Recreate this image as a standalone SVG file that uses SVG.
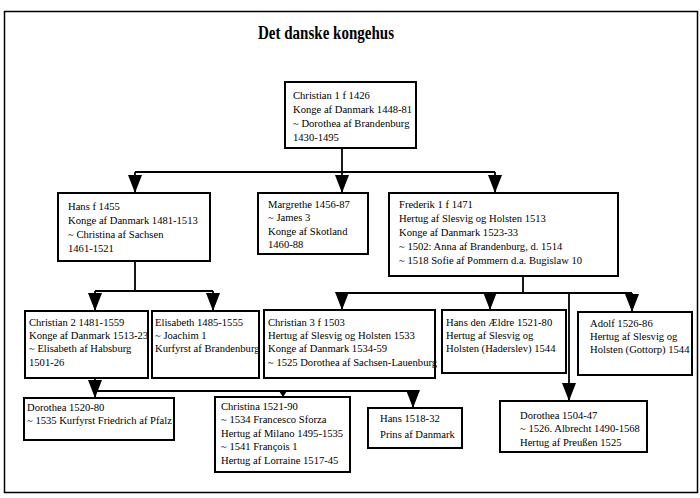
<svg xmlns="http://www.w3.org/2000/svg" width="700" height="498" viewBox="0 0 700 498">
<defs>
<marker id="arr" markerUnits="userSpaceOnUse" viewBox="0 0 18 14" refX="18" refY="7" markerWidth="18" markerHeight="14" orient="auto"><path d="M0,0 L18,7 L0,14 z" fill="#000"/></marker>
<marker id="arrs" markerUnits="userSpaceOnUse" viewBox="0 0 6 8" refX="6" refY="4" markerWidth="6" markerHeight="8" orient="auto"><path d="M0,0 L6,4 L0,8 z" fill="#000"/></marker>
</defs>
<style>
.box{fill:#fff;stroke:#000;stroke-width:2}
.t{font-family:"Liberation Serif","Times New Roman",serif;font-size:10.6px;fill:#000}
.c{fill:none;stroke:#000;stroke-width:1.8}
.title{font-family:"Liberation Serif","Times New Roman",serif;font-size:19px;font-weight:bold;fill:#000}
</style>
<rect x="0" y="0" width="700" height="498" fill="#fff"/>
<rect x="4.5" y="11.5" width="693" height="481" fill="none" stroke="#000" stroke-width="1.5"/>
<text class="title" x="326" y="39" text-anchor="middle" textLength="136" lengthAdjust="spacingAndGlyphs">Det danske kongehus</text>

<g id="connectors">
<path class="c" d="M342,148 V172 M135,172 H495 M95,291 H213 M135,261 V291 M523,276 V293 M342,293 H632 M95,378 V391 H413"/>
<line class="c" x1="135" y1="172" x2="135" y2="193" marker-end="url(#arr)"/>
<line class="c" x1="342" y1="172" x2="342" y2="193" marker-end="url(#arr)"/>
<line class="c" x1="495" y1="172" x2="495" y2="193" marker-end="url(#arr)"/>
<line class="c" x1="95" y1="291" x2="95" y2="311" marker-end="url(#arr)"/>
<line class="c" x1="213" y1="291" x2="213" y2="311" marker-end="url(#arr)"/>
<line class="c" x1="342" y1="293" x2="342" y2="310" marker-end="url(#arr)"/>
<line class="c" x1="490" y1="293" x2="490" y2="310" marker-end="url(#arr)"/>
<line class="c" x1="632" y1="293" x2="632" y2="312" marker-end="url(#arr)"/>
<line class="c" x1="569" y1="293" x2="569" y2="401" marker-end="url(#arr)"/>
<line class="c" x1="95" y1="391" x2="95" y2="398" marker-end="url(#arr)"/>
<line class="c" x1="283" y1="391" x2="283" y2="397" marker-end="url(#arrs)"/>
<line class="c" x1="413" y1="391" x2="413" y2="408" marker-end="url(#arr)"/>
</g>

<g id="christian1">
<rect class="box" x="285" y="82" width="131" height="66"/>
<text class="t" x="293" y="99">Christian 1  f  1426</text>
<text class="t" x="293" y="113">Konge af Danmark 1448-81</text>
<text class="t" x="293" y="127">~ Dorothea af Brandenburg</text>
<text class="t" x="293" y="141">1430-1495</text>
</g>

<g id="hans1455">
<rect class="box" x="58" y="193" width="152" height="68"/>
<text class="t" x="68" y="210">Hans f  1455</text>
<text class="t" x="68" y="224">Konge af Danmark 1481-1513</text>
<text class="t" x="68" y="238">~ Christina af Sachsen</text>
<text class="t" x="68" y="252">1461-1521</text>
</g>

<g id="margrethe">
<rect class="box" x="258" y="193" width="110" height="61"/>
<text class="t" x="268" y="208">Margrethe 1456-87</text>
<text class="t" x="268" y="221">~ James 3</text>
<text class="t" x="268" y="235">Konge af Skotland</text>
<text class="t" x="268" y="248">1460-88</text>
</g>

<g id="frederik1">
<rect class="box" x="389" y="193" width="229" height="83"/>
<text class="t" x="399" y="208">Frederik 1  f  1471</text>
<text class="t" x="399" y="222">Hertug af Slesvig og Holsten 1513</text>
<text class="t" x="399" y="236">Konge af Danmark 1523-33</text>
<text class="t" x="399" y="250">~ 1502: Anna af Brandenburg, d.  1514</text>
<text class="t" x="399" y="264">~ 1518 Sofie af Pommern d.a.  Bugislaw 10</text>
</g>

<g id="christian2">
<rect class="box" x="25" y="311" width="123" height="67"/>
<text class="t" x="29" y="326">Christian 2  1481-1559</text>
<text class="t" x="29" y="339">Konge af Danmark 1513-23</text>
<text class="t" x="29" y="352">~ Elisabeth af Habsburg</text>
<text class="t" x="29" y="366">1501-26</text>
</g>

<g id="elisabeth">
<rect class="box" x="152" y="311" width="107" height="67"/>
<text class="t" x="155" y="326">Elisabeth 1485-1555</text>
<text class="t" x="155" y="339">~ Joachim 1</text>
<text class="t" x="155" y="352">Kurfyrst af Brandenburg</text>
</g>

<g id="christian3">
<rect class="box" x="264" y="310" width="171" height="68"/>
<text class="t" x="268" y="326">Christian 3  f  1503</text>
<text class="t" x="268" y="339">Hertug af Slesvig og Holsten 1533</text>
<text class="t" x="268" y="352">Konge af Danmark 1534-59</text>
<text class="t" x="268" y="366">~ 1525  Dorothea af Sachsen-Lauenburg</text>
</g>

<g id="hansaeldre">
<rect class="box" x="442" y="310" width="124" height="63"/>
<text class="t" x="446" y="326">Hans den Ældre 1521-80</text>
<text class="t" x="446" y="339">Hertug af Slesvig og</text>
<text class="t" x="446" y="352">Holsten (Haderslev) 1544</text>
</g>

<g id="adolf">
<rect class="box" x="578" y="312" width="114" height="63"/>
<text class="t" x="590" y="327">Adolf 1526-86</text>
<text class="t" x="590" y="340">Hertug af Slesvig og</text>
<text class="t" x="590" y="353">Holsten (Gottorp) 1544</text>
</g>

<g id="dorothea1520">
<rect class="box" x="24" y="398" width="150" height="42"/>
<text class="t" x="27" y="411">Dorothea 1520-80</text>
<text class="t" x="27" y="424">~ 1535 Kurfyrst Friedrich af Pfalz</text>
</g>

<g id="christina">
<rect class="box" x="215" y="397" width="135" height="75"/>
<text class="t" x="221" y="410">Christina 1521-90</text>
<text class="t" x="221" y="423">~ 1534  Francesco Sforza</text>
<text class="t" x="221" y="437">Hertug af Milano 1495-1535</text>
<text class="t" x="221" y="450">~ 1541  François 1</text>
<text class="t" x="221" y="464">Hertug af Lorraine 1517-45</text>
</g>

<g id="hans1518">
<rect class="box" x="368" y="408" width="94" height="40"/>
<text class="t" x="380" y="422">Hans 1518-32</text>
<text class="t" x="380" y="438">Prins af Danmark</text>
</g>

<g id="dorothea1504">
<rect class="box" x="500" y="401" width="147" height="51"/>
<text class="t" x="520" y="419">Dorothea 1504-47</text>
<text class="t" x="520" y="432">~ 1526. Albrecht 1490-1568</text>
<text class="t" x="520" y="446">Hertug af Preußen 1525</text>
</g>
</svg>
